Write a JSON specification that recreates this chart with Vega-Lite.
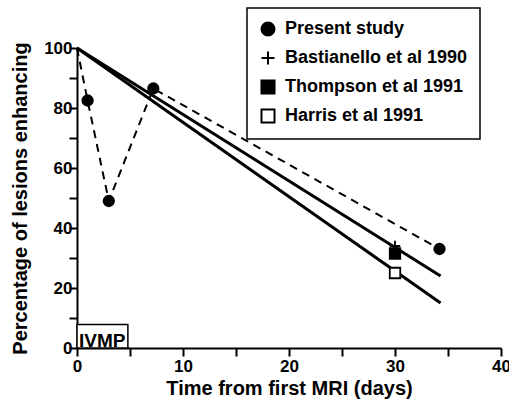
{
  "$schema": "https://vega.github.io/schema/vega-lite/v6.json",
  "width": 424,
  "height": 300,
  "autosize": "none",
  "padding": {"left": 77, "top": 48, "right": 8, "bottom": 55},
  "background": "white",
  "config": {
    "view": {"stroke": null},
    "font": "Liberation Sans",
    "legend": {"strokeWidth": 1.5}
  },
  "datasets": {
    "ivmp": [{"day": 0, "day2": 4.8, "pct": 0, "pct2": 7.8, "label": "IVMP"}],
    "fits": [
      {"fit": "A", "day": 0, "pct": 100},
      {"fit": "A", "day": 34.3, "pct": 24},
      {"fit": "B", "day": 0, "pct": 100},
      {"fit": "B", "day": 34.3, "pct": 15}
    ],
    "present": [
      {"day": 0, "pct": 100},
      {"day": 1, "pct": 82.5},
      {"day": 3, "pct": 49},
      {"day": 7.2, "pct": 86.5},
      {"day": 34.2, "pct": 33}
    ],
    "studies": [
      {"series": "Present study", "day": 1, "pct": 82.5},
      {"series": "Present study", "day": 3, "pct": 49},
      {"series": "Present study", "day": 7.2, "pct": 86.5},
      {"series": "Present study", "day": 34.2, "pct": 33},
      {"series": "Bastianello et al 1990", "day": 30, "pct": 34},
      {"series": "Thompson et al 1991", "day": 30, "pct": 31.5},
      {"series": "Harris et al 1991", "day": 30, "pct": 25}
    ]
  },
  "encoding": {
    "x": {
      "field": "day", "type": "quantitative",
      "scale": {"domain": [0, 40], "nice": false, "zero": false},
      "axis": {
        "title": "Time from first MRI (days)",
        "values": [0, 5, 10, 15, 20, 25, 30, 35, 40],
        "labelExpr": "datum.value % 10 == 0 ? datum.label : ''",
        "grid": false,
        "domainColor": "black", "domainWidth": 2,
        "tickColor": "black", "tickWidth": 2,
        "tickSize": 8,
        "encode": {"ticks": {"update": {"y2": {"signal": "datum.value % 10 == 0 ? -10 : -6"}}}},
        "labelFontSize": 17, "labelFontWeight": "bold", "labelColor": "black",
        "labelPadding": 2, "labelFlush": false,
        "titleFontSize": 20, "titleFontWeight": "bold", "titleColor": "black",
        "titlePadding": 4
      }
    },
    "y": {
      "field": "pct", "type": "quantitative",
      "scale": {"domain": [0, 100], "nice": false},
      "axis": {
        "title": "Percentage of lesions enhancing",
        "values": [0, 10, 20, 30, 40, 50, 60, 70, 80, 90, 100],
        "labelExpr": "datum.value % 20 == 0 ? datum.label : ''",
        "grid": false,
        "domainColor": "black", "domainWidth": 2,
        "tickColor": "black", "tickWidth": 2,
        "tickSize": 8,
        "encode": {"ticks": {"update": {"x2": {"signal": "datum.value % 20 == 0 ? 10 : 6"}}}},
        "labelFontSize": 17, "labelFontWeight": "bold", "labelColor": "black",
        "labelPadding": -3, "labelFlush": false,
        "titleFontSize": 20, "titleFontWeight": "bold", "titleColor": "black",
        "titlePadding": 13
      }
    }
  },
  "layer": [
    {
      "data": {"name": "ivmp"},
      "mark": {"type": "rect", "fill": "white", "stroke": "black", "strokeWidth": 1.5},
      "encoding": {"x2": {"field": "day2"}, "y2": {"field": "pct2"}}
    },
    {
      "data": {"name": "ivmp"},
      "mark": {"type": "text", "align": "left", "baseline": "alphabetic", "dx": 2, "dy": -1, "fontSize": 19, "fontWeight": "bold", "color": "black"},
      "encoding": {"text": {"field": "label"}}
    },
    {
      "data": {"name": "fits"},
      "mark": {"type": "line", "color": "black", "strokeWidth": 3},
      "encoding": {"detail": {"field": "fit"}}
    },
    {
      "data": {"name": "present"},
      "mark": {"type": "line", "color": "black", "strokeWidth": 2, "strokeDash": [8, 6]},
      "encoding": {"order": {"field": "day"}}
    },
    {
      "data": {"name": "studies"},
      "mark": {"type": "point", "size": 110, "opacity": 1, "strokeWidth": 1.8},
      "encoding": {
        "shape": {
          "field": "series", "type": "nominal",
          "scale": {
            "domain": ["Present study", "Bastianello et al 1990", "Thompson et al 1991", "Harris et al 1991"],
            "range": ["circle", "M-1,0H1M0,-1V1", "square", "square"]
          },
          "legend": {
            "title": null, "orient": "none", "legendX": 170, "legendY": -40,
            "strokeColor": "black", "padding": 12, "rowPadding": 7,
            "symbolSize": 170, "symbolStrokeWidth": 2,
            "labelFontSize": 18, "labelFontWeight": "bold", "labelColor": "black",
            "labelOffset": 8, "labelLimit": 400
          }
        },
        "fill": {
          "field": "series", "type": "nominal",
          "scale": {
            "domain": ["Present study", "Bastianello et al 1990", "Thompson et al 1991", "Harris et al 1991"],
            "range": ["black", "black", "black", "white"]
          },
          "legend": {
            "title": null, "orient": "none", "legendX": 170, "legendY": -40,
            "strokeColor": "black", "padding": 12, "rowPadding": 7,
            "symbolSize": 170, "symbolStrokeWidth": 2,
            "labelFontSize": 18, "labelFontWeight": "bold", "labelColor": "black",
            "labelOffset": 8, "labelLimit": 400
          }
        },
        "stroke": {
          "field": "series", "type": "nominal",
          "scale": {
            "domain": ["Present study", "Bastianello et al 1990", "Thompson et al 1991", "Harris et al 1991"],
            "range": ["black", "black", "black", "black"]
          },
          "legend": {
            "title": null, "orient": "none", "legendX": 170, "legendY": -40,
            "strokeColor": "black", "padding": 12, "rowPadding": 7,
            "symbolSize": 170, "symbolStrokeWidth": 2,
            "labelFontSize": 18, "labelFontWeight": "bold", "labelColor": "black",
            "labelOffset": 8, "labelLimit": 400
          }
        }
      }
    }
  ]
}
